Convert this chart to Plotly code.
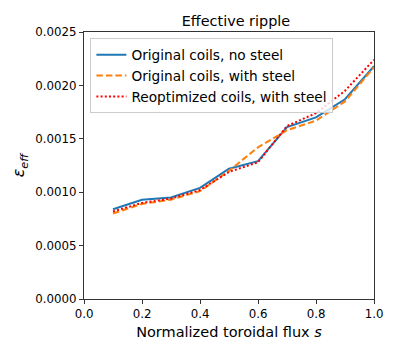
import plotly.graph_objects as go

s = [0.1, 0.2, 0.3, 0.4, 0.5, 0.6, 0.7, 0.8, 0.9, 1.0]
no_steel = [0.00084, 0.00093, 0.00095, 0.00104, 0.00122, 0.00129, 0.00161, 0.00170, 0.00187, 0.00218]
with_steel = [0.00080, 0.00089, 0.00093, 0.00101, 0.00120, 0.00142, 0.00158, 0.00167, 0.00185, 0.00217]
reoptimized = [0.00082, 0.00090, 0.00094, 0.00102, 0.00119, 0.00128, 0.00162, 0.00174, 0.00195, 0.00224]

FONT = "DejaVu Sans, sans-serif"

fig = go.Figure()
fig.add_trace(go.Scatter(x=s, y=no_steel, mode="lines", name="Original coils, no steel",
                         line=dict(color="#1f77b4", width=2)))
fig.add_trace(go.Scatter(x=s, y=with_steel, mode="lines", name="Original coils, with steel",
                         line=dict(color="#ff7f0e", width=2, dash="6.5px,3px")))
fig.add_trace(go.Scatter(x=s, y=reoptimized, mode="lines", name="Reoptimized coils, with steel",
                         line=dict(color="red", width=2, dash="2px,2.2px")))

axis_common = dict(
    showline=True, linecolor="#333333", linewidth=1.2, mirror=True,
    ticks="outside", ticklen=4, tickcolor="#333333",
    showgrid=False, zeroline=False, automargin=False,
    tickfont=dict(family=FONT, size=11.8, color="black"),
)

# the page body adds an 8px offset, so the figure is sized to fit inside the window
fig.update_layout(
    width=389, height=345,
    margin=dict(l=76, r=23, t=24, b=54),
    plot_bgcolor="white", paper_bgcolor="white",
    font=dict(family=FONT, color="black"),
    title=dict(text="Effective ripple", x=0.586, xanchor="center", y=0.963, yanchor="middle",
               font=dict(family=FONT, size=14.4, color="black")),
    xaxis=dict(range=[0, 1], tickvals=[0, 0.2, 0.4, 0.6, 0.8, 1.0], tickformat=".1f",
               title=dict(text="Normalized toroidal flux <i>s</i>", font=dict(size=14.5), standoff=6),
               **axis_common),
    yaxis=dict(range=[0, 0.0025], tickvals=[0, 0.0005, 0.001, 0.0015, 0.002, 0.0025], tickformat=".4f",
               title=dict(text="<i>ε<sub>eff</sub></i>", font=dict(size=16), standoff=6),
               **axis_common),
    legend=dict(x=0.022, y=0.976, xanchor="left", yanchor="top",
                bgcolor="rgba(255,255,255,0.8)", bordercolor="#cccccc", borderwidth=1,
                font=dict(family=FONT, size=13.7, color="black"),
                tracegroupgap=0, itemwidth=30),
    showlegend=True,
)

fig.write_html("out.html")
